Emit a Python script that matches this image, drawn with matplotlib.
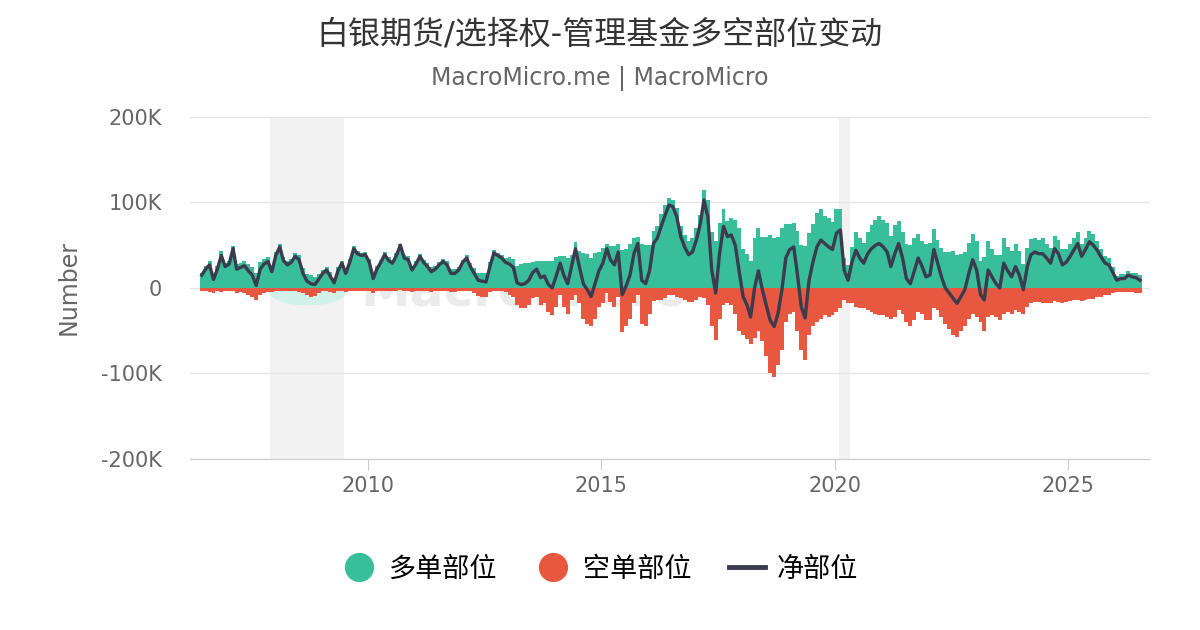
import numpy as np
import pandas as pd
import matplotlib
matplotlib.use("Agg")
import matplotlib.pyplot as plt
import matplotlib.dates as mdates
from matplotlib.lines import Line2D
from matplotlib.patches import Circle
from matplotlib.ticker import FuncFormatter

plt.rcParams['font.family'] = ['DejaVu Sans', 'Noto Sans CJK SC']

GREEN = '#38BE9B'
RED = '#E8573F'
NAVY = '#3A3C4E'
GRAY = '#666666'

# monthly values, thousands of contracts, Jun 2006 .. Jul 2026
long_k = [
    18, 26, 32, 16, 26, 43, 29,                        # 2006 (Jun-Dec)
    32, 49, 28, 29, 32, 28, 25, 17, 30, 34, 36, 24,    # 2007
    42, 51, 36, 31, 34, 41, 38, 23, 16, 15, 13, 16,    # 2008
    21, 24, 19, 12, 24, 32, 22, 34, 49, 43, 41, 42,    # 2009
    34, 17, 26, 33, 42, 36, 33, 41, 52, 38, 37, 26,    # 2010
    32, 40, 33, 29, 24, 26, 30, 34, 31, 22, 22, 25,    # 2011
    33, 38, 29, 23, 18, 18, 18, 30, 44, 41, 38, 35,    # 2012
    36, 34, 26, 28, 29, 29, 30, 32, 32, 32, 32, 32,    # 2013
    36, 37, 37, 35, 39, 54, 43, 41, 40, 35, 41, 42,    # 2014
    47, 52, 49, 49, 52, 44, 46, 51, 58, 60, 51, 50,    # 2015
    50, 67, 72, 86, 97, 105, 103, 93, 72, 62, 55, 58,  # 2016
    70, 85, 115, 103, 66, 55, 76, 92, 78, 82, 80, 70,  # 2017
    45, 40, 31, 58, 70, 60, 60, 62, 59, 60, 70, 75,    # 2018
    75, 76, 67, 50, 49, 64, 75, 88, 92, 84, 82, 77,    # 2019
    92, 92, 35, 27, 48, 66, 59, 53, 66, 74, 80, 84,    # 2020
    80, 76, 61, 74, 78, 65, 51, 50, 58, 63, 55, 51,    # 2021
    53, 69, 56, 47, 42, 42, 43, 39, 40, 42, 53, 63,    # 2022
    55, 32, 36, 55, 45, 39, 38, 59, 48, 43, 51, 43,    # 2023
    28, 47, 57, 58, 56, 58, 52, 47, 61, 56, 45, 46,    # 2024
    52, 59, 66, 52, 59, 67, 63, 55, 46, 37, 35, 24,    # 2025
    14, 16, 16, 20, 18, 18, 15,                        # 2026 (Jan-Jul)
]

short_k = [
    -3, -4, -5, -6, -4, -5, -4,
    -4, -3, -6, -5, -6, -8, -10, -14, -8, -6, -5, -5,
    -4, -3, -4, -4, -4, -4, -5, -6, -8, -10, -9, -6,
    -4, -3, -5, -6, -4, -3, -5, -4, -3, -3, -3, -3,
    -4, -6, -4, -3, -3, -4, -4, -3, -2, -3, -4, -5,
    -4, -3, -3, -4, -5, -4, -3, -3, -4, -5, -5, -4,
    -3, -3, -4, -6, -9, -10, -11, -5, -3, -3, -3, -5,
    -8, -10, -20, -24, -24, -20, -12, -10, -20, -18, -28, -32,
    -22, -8, -22, -30, -14, -8, -18, -36, -42, -45, -36, -22,
    -18, -6, -16, -22, -10, -52, -44, -36, -18, -8, -42, -45,
    -30, -15, -14, -14, -12, -8, -8, -10, -12, -14, -16, -16,
    -14, -10, -12, -20, -45, -61, -36, -20, -18, -20, -30, -50,
    -55, -60, -65, -58, -50, -62, -80, -100, -104, -90, -72, -40,
    -30, -28, -50, -72, -84, -55, -45, -40, -36, -32, -34, -32,
    -28, -24, -14, -18, -18, -22, -24, -24, -26, -28, -30, -32,
    -32, -34, -36, -34, -26, -30, -40, -45, -38, -28, -30, -38,
    -38, -24, -26, -34, -42, -48, -55, -57, -50, -44, -36, -30,
    -34, -40, -50, -34, -32, -34, -38, -30, -28, -30, -26, -28,
    -30, -22, -18, -16, -16, -18, -17, -18, -15, -16, -18, -16,
    -15, -14, -14, -15, -14, -13, -13, -11, -10, -8, -8, -6,
    -5, -5, -5, -5, -5, -6, -6,
]

dates = pd.date_range('2006-06-01', periods=len(long_k), freq='MS') + pd.Timedelta(days=14)
long_pos = np.array(long_k) * 1000
short_pos = np.array(short_k) * 1000
net_pos = long_pos + short_pos

recessions = [('2007-12-01', '2009-06-30'), ('2020-02-01', '2020-04-30')]

fig = plt.figure(figsize=(12, 6.3), dpi=100)
ax = fig.add_axes([0.1583, 0.2714, 0.8, 0.543])

for start, end in recessions:
    ax.axvspan(pd.Timestamp(start), pd.Timestamp(end), color='#F2F2F2', zorder=0, lw=0)

# faint watermark
ax.add_patch(Circle((0.123, 0.49), 0.041, transform=ax.transAxes, color='#D2F1E8',
                    zorder=1, lw=0))
ax.text(0.178, 0.49, 'MacroMicro', transform=ax.transAxes, fontsize=36,
        color='#EBEBEB', va='center', ha='left', zorder=1, fontweight='bold')

ax.bar(dates, long_pos, width=31, color=GREEN, lw=0, zorder=2)
ax.bar(dates, short_pos, width=31, color=RED, lw=0, zorder=2)
ax.plot(dates, net_pos, color=NAVY, lw=2.4, zorder=3)

ax.set_ylim(-200000, 200000)
ax.set_yticks([-200000, -100000, 0, 100000, 200000])
ax.yaxis.set_major_formatter(FuncFormatter(lambda v, p: '0' if v == 0 else f'{int(v / 1000)}K'))
ax.set_xlim(pd.Timestamp('2006-03-15'), pd.Timestamp('2026-10-01'))
ax.xaxis.set_major_locator(mdates.YearLocator(5))
ax.xaxis.set_major_formatter(mdates.DateFormatter('%Y'))

ax.grid(axis='y', color='#E6E6E6', lw=1)
ax.set_axisbelow(True)
for s in ['top', 'right', 'left']:
    ax.spines[s].set_visible(False)
ax.spines['bottom'].set_color('#CCCCCC')
ax.tick_params(axis='y', length=0, labelsize=15, colors=GRAY, pad=20)
ax.tick_params(axis='x', length=8, color='#CCCCCC', labelsize=15, labelcolor=GRAY, pad=4)
ax.set_ylabel('Number', fontsize=17, color=GRAY, labelpad=15)

fig.text(0.5, 0.945, '白银期货/选择权-管理基金多空部位变动', ha='center', va='center',
         fontsize=23, color='#333333')
fig.text(0.5, 0.876, 'MacroMicro.me | MacroMicro', ha='center', va='center',
         fontsize=17, color=GRAY)

handles = [
    Line2D([], [], marker='o', ls='', markersize=20, color=GREEN),
    Line2D([], [], marker='o', ls='', markersize=20, color=RED),
    Line2D([], [], color=NAVY, lw=3.5),
]
fig.legend(handles, ['多单部位', '空单部位', '净部位'], loc='center', bbox_to_anchor=(0.5, 0.096),
           ncol=3, frameon=False, fontsize=19.5, handlelength=1.3, handletextpad=0.45,
           columnspacing=1.4)

fig.savefig('out.png', dpi=100)
